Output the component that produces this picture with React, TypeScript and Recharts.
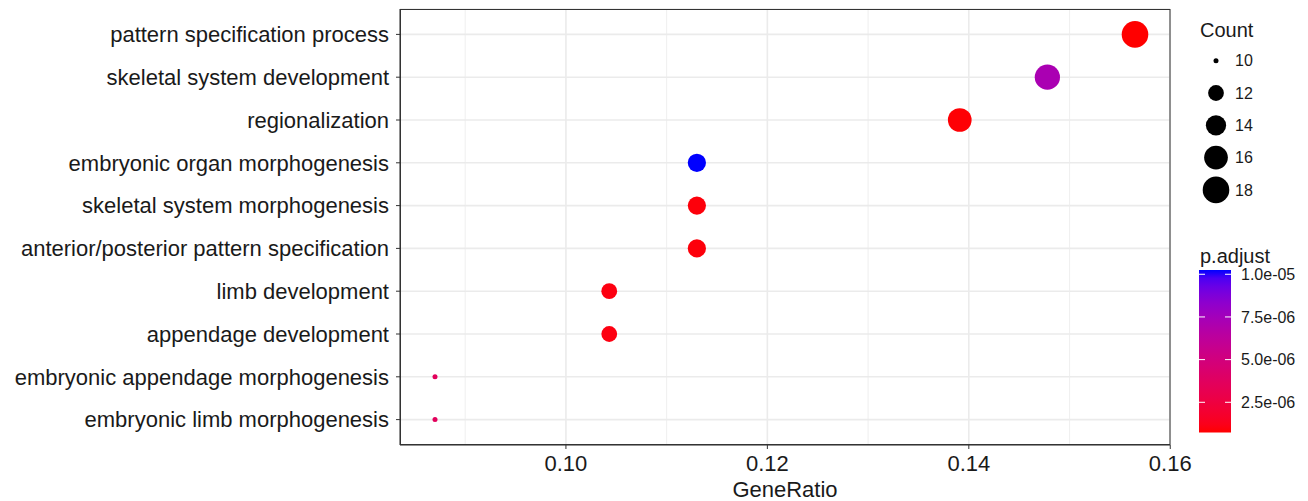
import React from "react";
import {
  ScatterChart,
  Scatter,
  XAxis,
  YAxis,
  CartesianGrid,
  ReferenceLine,
} from "recharts";

const terms = [
  "pattern specification process",
  "skeletal system development",
  "regionalization",
  "embryonic organ morphogenesis",
  "skeletal system morphogenesis",
  "anterior/posterior pattern specification",
  "limb development",
  "appendage development",
  "embryonic appendage morphogenesis",
  "embryonic limb morphogenesis",
];
const geneRatio = [0.1565, 0.1478, 0.1391, 0.113, 0.113, 0.113, 0.1043, 0.1043, 0.087, 0.087];
const counts = [18, 17, 16, 13, 13, 13, 12, 12, 10, 10];
const pAdjust = [7.3e-7, 7.2e-6, 8.0e-7, 1.025e-5, 9.0e-7, 9.0e-7, 1.0e-6, 1.0e-6, 3.6e-6, 3.6e-6];

const xTicks = [0.1, 0.12, 0.14, 0.16];
const xMinor = [0.09, 0.11, 0.13, 0.15];
const countBreaks = [10, 12, 14, 16, 18];
const padjBreaks = [1.0e-5, 7.5e-6, 5.0e-6, 2.5e-6];
const padjLabels = ["1.0e-05", "7.5e-06", "5.0e-06", "2.5e-06"];

const data = terms.map((term, i) => ({
  term,
  ratio: geneRatio[i],
  count: counts[i],
  padj: pAdjust[i],
}));

// ggplot-like continuous expansion (5%)
const rMin = Math.min(...geneRatio);
const rMax = Math.max(...geneRatio);
const xLo = rMin - 0.05 * (rMax - rMin);
const xHi = rMax + 0.05 * (rMax - rMin);

// size: area palette like scale_size
const cMin = Math.min(...counts);
const cMax = Math.max(...counts);
const radius = (c: number) => {
  const t = (c - cMin) / (cMax - cMin);
  return 2.5 + Math.sqrt(t) * (13.3 - 2.5);
};

// colour: red -> blue interpolated in Lab
const toLinear = (v: number) => {
  const c = v / 255;
  return c <= 0.04045 ? c / 12.92 : Math.pow((c + 0.055) / 1.055, 2.4);
};
const toLab = (r: number, g: number, b: number) => {
  const R = toLinear(r), G = toLinear(g), B = toLinear(b);
  const X = (0.4124 * R + 0.3576 * G + 0.1805 * B) / 0.95047;
  const Y = 0.2126 * R + 0.7152 * G + 0.0722 * B;
  const Z = (0.0193 * R + 0.1192 * G + 0.9505 * B) / 1.08883;
  const f = (t: number) => (t > 0.008856 ? Math.cbrt(t) : 7.787 * t + 16 / 116);
  return [116 * f(Y) - 16, 500 * (f(X) - f(Y)), 200 * (f(Y) - f(Z))];
};
const labToHex = (L: number, a: number, bb: number) => {
  const fy = (L + 16) / 116;
  const fx = fy + a / 500;
  const fz = fy - bb / 200;
  const inv = (t: number) => (t > 0.206893 ? t * t * t : (t - 16 / 116) / 7.787);
  const X = inv(fx) * 0.95047, Y = inv(fy), Z = inv(fz) * 1.08883;
  const lin = [
    3.2406 * X - 1.5372 * Y - 0.4986 * Z,
    -0.9689 * X + 1.8758 * Y + 0.0415 * Z,
    0.0557 * X - 0.204 * Y + 1.057 * Z,
  ];
  return (
    "#" +
    lin
      .map((c) => {
        const s = c <= 0.0031308 ? 12.92 * c : 1.055 * Math.pow(c, 1 / 2.4) - 0.055;
        const v = Math.round(Math.min(1, Math.max(0, s)) * 255);
        return v.toString(16).padStart(2, "0");
      })
      .join("")
  );
};
const LOW = toLab(255, 0, 0);
const HIGH = toLab(0, 0, 255);
const pMin = Math.min(...pAdjust);
const pMax = Math.max(...pAdjust);
const colorAt = (t: number) =>
  labToHex(
    LOW[0] + t * (HIGH[0] - LOW[0]),
    LOW[1] + t * (HIGH[1] - LOW[1]),
    LOW[2] + t * (HIGH[2] - LOW[2])
  );
const padjColor = (p: number) => colorAt((p - pMin) / (pMax - pMin));

const textColor = "#1a1a1a";

const Dot = (props: any) => {
  const { cx, cy, payload } = props;
  if (cx == null || cy == null) return null;
  return <circle cx={cx} cy={cy} r={radius(payload.count)} fill={padjColor(payload.padj)} />;
};

// legend geometry
const barTop = 270;
const barBottom = 432.5;
const barY = (p: number) => barBottom - ((p - pMin) / (pMax - pMin)) * (barBottom - barTop);

export default function App() {
  return (
    <div
      style={{
        position: "absolute",
        left: 0,
        top: 0,
        width: 1308,
        height: 501,
        background: "#fff",
        fontFamily: '"Liberation Sans", Arial, sans-serif',
      }}
    >
      <ScatterChart width={1308} height={501} margin={{ top: 9, right: 138, bottom: 0, left: 0 }}>
        <CartesianGrid stroke="#EBEBEB" strokeWidth={1.6} />
        {xMinor.map((v) => (
          <ReferenceLine key={v} x={v} stroke="#EBEBEB" strokeWidth={0.8} />
        ))}
        <XAxis
          type="number"
          dataKey="ratio"
          domain={[xLo, xHi]}
          allowDataOverflow
          ticks={xTicks}
          tickFormatter={(v) => Number(v).toFixed(2)}
          height={56}
          tickSize={4}
          tickMargin={6}
          axisLine={{ stroke: "#333333" }}
          tickLine={{ stroke: "#333333" }}
          tick={{ fill: textColor, fontSize: 22 }}
          label={{ value: "GeneRatio", position: "insideBottom", offset: 4, fill: textColor, fontSize: 22 }}
        />
        <YAxis
          type="category"
          dataKey="term"
          width={400}
          interval={0}
          reversed
          padding={{ top: 4, bottom: 4 }}
          tickSize={4}
          tickMargin={7}
          axisLine={{ stroke: "#333333" }}
          tickLine={{ stroke: "#333333" }}
          tick={{ fill: textColor, fontSize: 22 }}
        />
        <Scatter data={data} isAnimationActive={false} shape={<Dot />} />
      </ScatterChart>

      <svg
        width={1308}
        height={501}
        style={{ position: "absolute", left: 0, top: 0, pointerEvents: "none" }}
      >
        <defs>
          <linearGradient id="padjGrad" x1="0" y1="1" x2="0" y2="0">
            {Array.from({ length: 21 }, (_, i) => (
              <stop key={i} offset={`${i * 5}%`} stopColor={colorAt(i / 20)} />
            ))}
          </linearGradient>
        </defs>
        {/* panel border */}
        <rect x={400.5} y={9.5} width={769.5} height={435} fill="none" stroke="#333333" strokeWidth={1} />
        <text x={1200} y={37} fontSize={20} fill={textColor}>
          Count
        </text>
        {countBreaks.map((c, i) => (
          <g key={c}>
            <circle cx={1216} cy={60.7 + i * 32.3} r={radius(c)} fill="#000" />
            <text x={1235} y={60.7 + i * 32.3} dy="0.35em" fontSize={16} fill={textColor}>
              {c}
            </text>
          </g>
        ))}
        <text x={1200} y={263} fontSize={20} fill={textColor}>
          p.adjust
        </text>
        <rect x={1199} y={barTop} width={32} height={barBottom - barTop} fill="url(#padjGrad)" />
        {padjBreaks.map((p, i) => (
          <g key={p}>
            <line x1={1199} x2={1205} y1={barY(p)} y2={barY(p)} stroke="#fff" strokeWidth={1} />
            <line x1={1225} x2={1231} y1={barY(p)} y2={barY(p)} stroke="#fff" strokeWidth={1} />
            <text x={1241} y={barY(p)} dy="0.35em" fontSize={16} fill={textColor}>
              {padjLabels[i]}
            </text>
          </g>
        ))}
      </svg>
    </div>
  );
}
